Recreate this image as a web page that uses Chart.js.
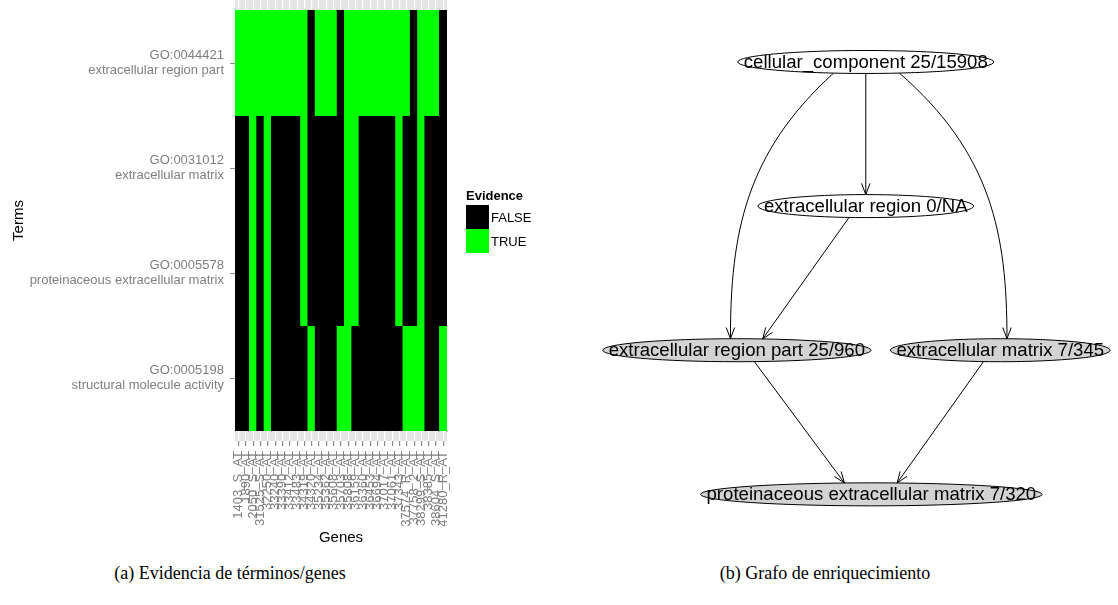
<!DOCTYPE html>
<html>
<head>
<meta charset="utf-8">
<script src="https://cdn.jsdelivr.net/npm/chart.js@4.4.0/dist/chart.umd.min.js"></script>
<style>
  body { margin: 0; background: #fff; width: 1118px; height: 605px; position: relative; overflow: hidden;
         font-family: "Liberation Sans", Arial, sans-serif; }
  #heat { position: absolute; left: 0; top: 0; }
  #graph { position: absolute; left: 560px; top: 0; }
  .legend { position: absolute; left: 466px; top: 188px; font-size: 13px; color: #000; }
  .legend .title { font-weight: bold; height: 16px; line-height: 16px; margin-bottom: 1px; }
  .legend .row { display: flex; align-items: center; height: 24px; }
  .legend .sw { width: 23px; height: 24px; margin-right: 2px; }
  .caption { position: absolute; top: 563px; width: 400px; text-align: center; white-space: nowrap;
             font-family: "Liberation Serif", "DejaVu Serif", serif; font-size: 18px; color: #000; }
</style>
</head>
<body>
<canvas id="heat" width="560" height="552"></canvas>
<canvas id="graph" width="558" height="552"></canvas>
<div class="legend" id="legend"></div>
<div class="caption" style="left:30px">(a) Evidencia de términos/genes</div>
<div class="caption" style="left:625px">(b) Grafo de enriquecimiento</div>

<script>
// ---- panel (a): evidence heatmap ----
const genes = ['1403_S_AT', '1890_AT', '2050_S_AT', '31525_S_AT', '32250_AT', '33240_AT', '33390_AT',
  '33412_AT', '33483_AT', '34319_AT', '34320_AT', '35234_AT', '35362_AT', '35608_AT', '35703_AT',
  '35808_AT', '36159_AT', '36360_AT', '36453_AT', '36694_AT', '37017_AT', '37061_AT', '37343_AT',
  '37574_R_AT', '37758_2_AT', '38299_S_AT', '38385_AT', '38604_S_AT', '41280_R_AT'];
const terms = ['GO:0044421', 'GO:0031012', 'GO:0005578', 'GO:0005198'];
const termNames = ['extracellular region part', 'extracellular matrix',
  'proteinaceous extracellular matrix', 'structural molecule activity'];
// 1 = TRUE (gene annotated to term), 0 = FALSE
const ev0044421 = [1,1,1,1,1,1,1,1,1,1,0,1,1,1,0,1,1,1,1,1,1,1,1,1,0,1,1,1,0];
const ev0031012 = [0,0,1,0,1,0,0,0,0,1,0,0,0,0,0,1,1,0,0,0,0,0,1,0,0,1,0,0,0];
const ev0005578 = [0,0,1,0,1,0,0,0,0,1,0,0,0,0,0,1,1,0,0,0,0,0,1,0,0,1,0,0,0];
const ev0005198 = [0,0,1,0,1,0,0,0,0,0,1,0,0,0,1,1,0,0,0,0,0,0,0,1,1,1,0,0,1];
const evidenceLevels = ['FALSE', 'TRUE'];
const evidenceColors = ['#000000', '#00FF00'];

// ---- panel (b): enrichment graph ----
const nodeLabels = ['cellular_component 25/15908', 'extracellular region 0/NA',
  'extracellular region part 25/960', 'extracellular matrix 7/345',
  'proteinaceous extracellular matrix 7/320'];
const nodeX = [54.8, 54.8, 31.7, 78.9, 55.8];   // layout position across (0-100)
const nodeRank = [0, 1, 2, 2, 3];               // layout level, top to bottom
const nodeSignificant = [false, false, true, true, true];
const edgeFrom = [0, 0, 0, 1, 2, 3];
const edgeTo = [1, 2, 3, 2, 4, 4];

const FONT = '"Liberation Sans", Arial, sans-serif';
const GREY_TXT = '#7F7F7F';

const rows = [ev0044421, ev0031012, ev0005578, ev0005198];

const panelBg = {
  id: 'panelBg',
  beforeDraw(chart) {
    const { ctx, chartArea: a } = chart;
    ctx.save();
    ctx.fillStyle = '#E5E5E5';
    ctx.fillRect(a.left, a.top, a.right - a.left, a.bottom - a.top);
    ctx.restore();
  }
};

new Chart(document.getElementById('heat'), {
  type: 'bar',
  data: {
    labels: genes,
    datasets: rows.map((ev, r) => ({
      label: terms[r],
      data: ev.map(() => [r + 0.5, r + 1.5]),
      backgroundColor: ev.map(v => evidenceColors[v]),
      borderWidth: 0,
      inflateAmount: 0.6,
      barPercentage: 1,
      categoryPercentage: 1,
      grouped: false
    }))
  },
  options: {
    responsive: false,
    animation: false,
    layout: { padding: { left: 0, right: 113, top: 0, bottom: 0 } },
    plugins: { legend: { display: false }, tooltip: { enabled: false } },
    scales: {
      x: {
        offset: true,
        grid: { offset: false, color: '#FFFFFF', lineWidth: 1.2, tickColor: '#8C8C8C', tickLength: 5 },
        border: { display: false },
        ticks: { autoSkip: false, minRotation: 90, maxRotation: 90, padding: 5,
                 color: GREY_TXT, font: { family: FONT, size: 13 } },
        title: { display: true, text: 'Genes', color: '#000', font: { family: FONT, size: 15 },
                 padding: { top: 0, bottom: 5 } },
        afterFit(scale) { scale.height = 111; scale.paddingLeft = 0; scale.paddingRight = 0; }
      },
      y: {
        type: 'linear',
        reverse: true,
        min: 0.4,
        max: 4.6,
        afterBuildTicks(scale) { scale.ticks = terms.map((t, i) => ({ value: i + 1 })); },
        grid: { drawOnChartArea: false, color: '#8C8C8C', tickLength: 5 },
        border: { display: false },
        ticks: {
          padding: 6,
          color: GREY_TXT,
          font: { family: FONT, size: 13, lineHeight: 1.1 },
          callback: v => [terms[v - 1], termNames[v - 1]]
        },
        title: { display: true, text: 'Terms', color: '#000', font: { family: FONT, size: 15 },
                 padding: { top: 10, bottom: 0 } },
        afterFit(scale) { scale.width = 235; scale.paddingTop = 0; scale.paddingBottom = 0; }
      }
    }
  },
  plugins: [panelBg]
});

// legend for the heatmap
const legendEl = document.getElementById('legend');
legendEl.innerHTML = '<div class="title">Evidence</div>' + evidenceLevels.map((lv, i) =>
  `<div class="row"><div class="sw" style="background:${evidenceColors[i]}"></div>${lv}</div>`).join('');

// ---- graph drawing ----
function ellipseY(n, x, side) {
  const u = (x - n.x) / n.rx;
  return n.y + side * n.ry * Math.sqrt(Math.max(0, 1 - u * u));
}

function arrowHead(ctx, x, y, ang) {
  const len = 12, spread = 0.36;
  ctx.beginPath();
  ctx.moveTo(x - len * Math.cos(ang - spread), y - len * Math.sin(ang - spread));
  ctx.lineTo(x, y);
  ctx.lineTo(x - len * Math.cos(ang + spread), y - len * Math.sin(ang + spread));
  ctx.stroke();
}

const graphPlugin = {
  id: 'graphNodes',
  afterDatasetsDraw(chart) {
    const ctx = chart.ctx;
    const pts = chart.getDatasetMeta(0).data;
    ctx.save();
    ctx.font = '18.6px ' + FONT;
    const nodes = pts.map((p, i) => ({ x: p.x, y: p.y, rx: ctx.measureText(nodeLabels[i]).width / 2 + 6, ry: 11.5 }));

    ctx.strokeStyle = '#000';
    ctx.lineWidth = 1;
    edgeFrom.forEach((a, k) => {
      const b = edgeTo[k];
      const s = nodes[a], t = nodes[b];
      const dx = t.x - s.x;
      ctx.beginPath();
      if (nodeRank[b] - nodeRank[a] > 1) {
        const x0 = s.x + dx * 0.25, y0 = ellipseY(s, x0, 1);
        const x3 = t.x + dx * 0.05, y3 = ellipseY(t, x3, -1);
        const c1x = x3 * 0.85 + x0 * 0.15, c1y = y0 + (y3 - y0) * 0.3;
        const c2x = x3, c2y = y0 + (y3 - y0) * 0.6;
        ctx.moveTo(x0, y0);
        ctx.bezierCurveTo(c1x, c1y, c2x, c2y, x3, y3);
        ctx.stroke();
        arrowHead(ctx, x3, y3, Math.atan2(y3 - c2y, x3 - c2x));
      } else {
        const x0 = s.x + dx * 0.13, y0 = ellipseY(s, x0, 1);
        const x3 = t.x - dx * 0.2, y3 = ellipseY(t, x3, -1);
        ctx.moveTo(x0, y0);
        ctx.lineTo(x3, y3);
        ctx.stroke();
        arrowHead(ctx, x3, y3, Math.atan2(y3 - y0, x3 - x0));
      }
    });

    ctx.textAlign = 'center';
    ctx.textBaseline = 'middle';
    nodes.forEach((n, i) => {
      ctx.beginPath();
      ctx.ellipse(n.x, n.y, n.rx, n.ry, 0, 0, Math.PI * 2);
      ctx.fillStyle = nodeSignificant[i] ? '#D3D3D3' : '#FFFFFF';
      ctx.fill();
      ctx.stroke();
      ctx.fillStyle = '#000';
      ctx.fillText(nodeLabels[i], n.x, n.y + 1);
    });
    ctx.restore();
  }
};

new Chart(document.getElementById('graph'), {
  type: 'scatter',
  data: {
    datasets: [{
      label: 'GO terms',
      data: nodeX.map((x, i) => ({ x, y: nodeRank[i] })),
      pointRadius: 0
    }]
  },
  options: {
    responsive: false,
    animation: false,
    layout: { padding: 0 },
    plugins: { legend: { display: false }, tooltip: { enabled: false } },
    scales: {
      x: { display: false, min: 0, max: 100 },
      y: { display: false, min: -0.43, max: 3.4, reverse: true }
    }
  },
  plugins: [graphPlugin]
});
</script>
</body>
</html>
